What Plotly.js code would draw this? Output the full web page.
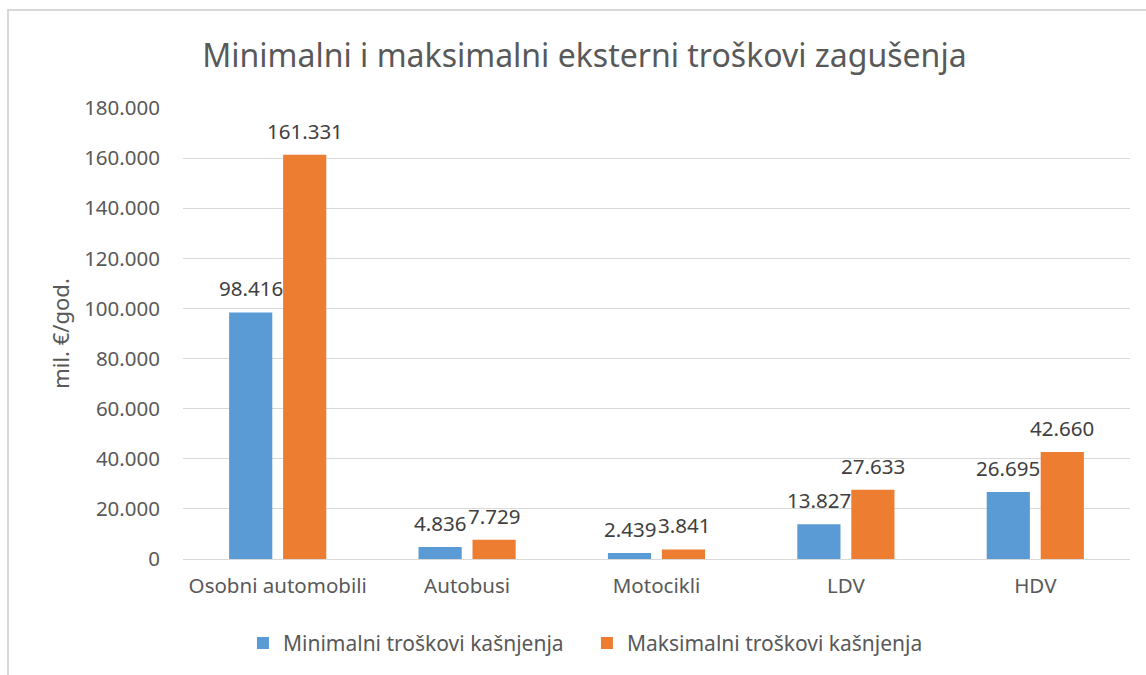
<!DOCTYPE html>
<html>
<head>
<meta charset="utf-8">
<script src="https://cdn.plot.ly/plotly-3.0.1.min.js"></script>
<style>
  html, body { margin: 0; padding: 0; background: #ffffff; }
  #frame { position: absolute; left: 7px; top: 9px; width: 1200px; height: 700px;
           border-top: 2px solid #d9d9d9; border-left: 2px solid #d9d9d9; z-index: 0; }
  #chart { position: absolute; left: 0; top: 0; width: 1146px; height: 675px; z-index: 1; }
</style>
</head>
<body>
<div id="frame"></div>
<div id="chart"></div>
<script>
const categories = ["Osobni automobili", "Autobusi", "Motocikli", "LDV", "HDV"];
const minValues = [98416, 4836, 2439, 13827, 26695];
const maxValues = [161331, 7729, 3841, 27633, 42660];
const seriesNames = ["Minimalni troškovi kašnjenja", "Maksimalni troškovi kašnjenja"];
const tickValues = [0, 20000, 40000, 60000, 80000, 100000, 120000, 140000, 160000, 180000];

const FONT = "Noto Sans, sans-serif";
const LABEL_FONT = { family: FONT, size: 20.5, color: "#404040" };

const traces = [
  {
    type: "bar", name: seriesNames[0], x: categories, y: minValues,
    marker: { color: "#5b9bd5" }, hoverinfo: "x+y"
  },
  {
    type: "bar", name: seriesNames[1], x: categories, y: maxValues,
    marker: { color: "#ed7d31" }, hoverinfo: "x+y"
  }
];

// data labels, positioned through the axes (category + value), shifted onto each bar of the group
function labels(values, shift) {
  return categories.map((c, i) => ({
    x: c, y: values[i], xref: "x", yref: "y",
    text: values[i].toLocaleString("de-DE"),
    showarrow: false, xanchor: "center", yanchor: "bottom",
    xshift: shift, yshift: 8, font: LABEL_FONT
  }));
}

const layout = {
  width: 1146, height: 675,
  paper_bgcolor: "rgba(0,0,0,0)", plot_bgcolor: "rgba(0,0,0,0)",
  separators: ",.",
  font: { family: FONT, color: "#595959", size: 20 },
  margin: { l: 183, r: 16, t: 108, b: 116 },
  title: {
    text: "Minimalni i maksimalni eksterni troškovi zagušenja",
    font: { family: FONT, size: 32, color: "#595959" },
    xref: "container", x: 0.51, xanchor: "center",
    yref: "container", y: 0.918, yanchor: "middle"
  },
  barmode: "group", bargap: 0.43, bargroupgap: 0.2,
  xaxis: {
    type: "category", showgrid: false, zeroline: false, showline: false,
    ticks: "", ticklabelstandoff: 12,
    tickfont: { family: FONT, size: 20.5, color: "#595959" }
  },
  yaxis: {
    range: [0, 180000], tickvals: tickValues, tickformat: ",d",
    showgrid: true, gridcolor: "#d9d9d9", gridwidth: 1,
    zeroline: true, zerolinecolor: "#d9d9d9", zerolinewidth: 1,
    showline: false, ticks: "", ticklabelstandoff: 22,
    tickfont: { family: FONT, size: 20.5, color: "#595959" },
    title: { text: "mil. €/god.", font: { family: FONT, size: 22, color: "#595959" }, standoff: 8 }
  },
  annotations: labels(minValues, -27).concat(labels(maxValues, 27)),
  showlegend: true,
  legend: {
    orientation: "h", xref: "container", x: 0.212, xanchor: "left",
    yref: "container", y: 0.047, yanchor: "middle",
    entrywidth: 299, entrywidthmode: "pixels",
    font: { family: FONT, size: 21, color: "#595959" },
    itemsizing: "constant", traceorder: "normal"
  }
};

Plotly.newPlot("chart", traces, layout, { displayModeBar: false, staticPlot: true });
</script>
</body>
</html>
